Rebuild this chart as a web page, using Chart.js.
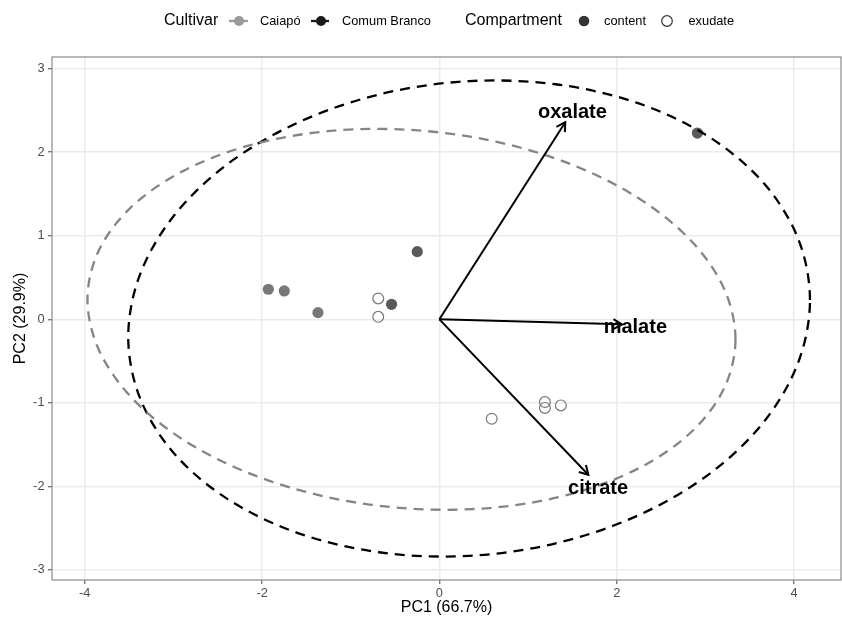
<!DOCTYPE html>
<html><head><meta charset="utf-8">
<script src="https://cdn.jsdelivr.net/npm/chart.js@4"></script>
<style>html,body{margin:0;padding:0;background:#fff}#wrap{width:842px;height:618px;position:relative}</style>
</head><body><div id="wrap"><canvas id="c" width="842" height="618"></canvas></div>
<script>
const FONT = '"Liberation Sans", Arial, Helvetica, sans-serif';

// ---- data ----
const xTicks = [-4, -2, 0, 2, 4];
const yTicks = [-3, -2, -1, 0, 1, 2, 3];
const xRange = [-4.37, 4.53];
const yRange = [-3.12, 3.14];

const contentPC1 = [-1.93, -1.75, -1.37, -0.54, -0.25, 2.91];
const contentPC2 = [0.36, 0.34, 0.08, 0.18, 0.81, 2.23];
const contentCultivar = ['Caiapó', 'Caiapó', 'Caiapó', 'Comum Branco', 'Comum Branco', 'Comum Branco'];

const exudatePC1 = [-0.69, -0.69, 0.59, 1.19, 1.19, 1.37];
const exudatePC2 = [0.25, 0.03, -1.19, -0.99, -1.06, -1.03];

const variables = ['oxalate', 'malate', 'citrate'];
const arrowPC1 = [1.42, 2.06, 1.68];
const arrowPC2 = [2.36, -0.06, -1.86];
const labelPC1 = [1.50, 2.21, 1.79];
const labelPC2 = [2.49, -0.08, -2.01];

// ellipse outlines (first and last entries overlap the loop so it closes smoothly)
const caiapoEllX = [3.215, 3.340, 3.215, 2.850, 2.269, 1.513, 0.631, -0.315, -1.261, -2.143, -2.899, -3.480, -3.845, -3.970, -3.845, -3.480, -2.899, -2.143, -1.261, -0.315, 0.631, 1.513, 2.269, 2.850, 3.215, 3.340, 3.215];
const caiapoEllY = [-0.817, -0.238, 0.357, 0.928, 1.435, 1.844, 2.128, 2.267, 2.252, 2.082, 1.771, 1.340, 0.817, 0.238, -0.357, -0.928, -1.435, -1.844, -2.128, -2.267, -2.252, -2.082, -1.771, -1.340, -0.817, -0.238, 0.357];
const comumEllX = [4.049, 4.180, 4.049, 3.665, 3.054, 2.258, 1.330, 0.335, -0.660, -1.588, -2.384, -2.995, -3.379, -3.510, -3.379, -2.995, -2.384, -1.588, -0.660, 0.335, 1.330, 2.258, 3.054, 3.665, 4.049, 4.180, 4.049];
const comumEllY = [-0.512, 0.231, 0.958, 1.622, 2.175, 2.581, 2.811, 2.851, 2.697, 2.359, 1.863, 1.240, 0.532, -0.211, -0.938, -1.602, -2.155, -2.561, -2.791, -2.831, -2.677, -2.339, -1.843, -1.220, -0.512, 0.231, 0.958];

const cultivarColor = { 'Caiapó': '#787878', 'Comum Branco': '#5a5a5a' };

// ---- build ----
const zip = (xs, ys) => xs.map((x, i) => ({ x: x, y: ys[i] }));

const datasets = [];
variables.forEach((v, i) => {
  datasets.push({
    label: v, data: [{ x: 0, y: 0 }, { x: arrowPC1[i], y: arrowPC2[i] }],
    showLine: true, pointRadius: 0, borderColor: '#000', borderWidth: 2, order: 0
  });
});
const ellipseSet = (label, xs, ys, col) => ({
  label: label, data: zip(xs, ys), showLine: true, pointRadius: 0,
  borderColor: col, borderWidth: 2.3, borderDash: [10, 7], tension: 0.33, order: 1,
  segment: {
    borderColor: c => (c.p0DataIndex === 0 || c.p1DataIndex === xs.length - 1) ? 'rgba(0,0,0,0)' : col
  }
});
datasets.push(ellipseSet('Caiapó ellipse', caiapoEllX, caiapoEllY, '#858585'));
datasets.push(ellipseSet('Comum Branco ellipse', comumEllX, comumEllY, '#000'));
datasets.push({
  label: 'content', data: zip(contentPC1, contentPC2), showLine: false, pointRadius: 5.6,
  pointStyle: 'circle', backgroundColor: contentCultivar.map(c => cultivarColor[c]),
  borderWidth: 0, order: 2
});
datasets.push({
  label: 'exudate', data: zip(exudatePC1, exudatePC2), showLine: false, pointRadius: 5.4,
  pointStyle: 'circle', backgroundColor: 'rgba(255,255,255,0)', borderColor: '#777',
  borderWidth: 1.2, order: 2
});

const bgPlugin = {
  id: 'bg',
  beforeDraw(chart) {
    const ctx = chart.ctx;
    ctx.save(); ctx.fillStyle = '#fff'; ctx.fillRect(0, 0, chart.width, chart.height); ctx.restore();
  }
};

const overlayPlugin = {
  id: 'overlay',
  afterDatasetsDraw(chart) {
    const ctx = chart.ctx, xs = chart.scales.x, ys = chart.scales.y;
    const a = chart.chartArea;
    // arrow heads
    ctx.save();
    ctx.strokeStyle = '#000'; ctx.lineWidth = 2; ctx.lineCap = 'butt'; ctx.lineJoin = 'miter';
    variables.forEach((v, i) => {
      const x0 = xs.getPixelForValue(0), y0 = ys.getPixelForValue(0);
      const x1 = xs.getPixelForValue(arrowPC1[i]), y1 = ys.getPixelForValue(arrowPC2[i]);
      const ang = Math.atan2(y1 - y0, x1 - x0);
      const L = 10, h = Math.PI / 6;
      ctx.beginPath();
      ctx.moveTo(x1 - L * Math.cos(ang - h), y1 - L * Math.sin(ang - h));
      ctx.lineTo(x1, y1);
      ctx.lineTo(x1 - L * Math.cos(ang + h), y1 - L * Math.sin(ang + h));
      ctx.stroke();
    });
    // labels
    ctx.fillStyle = '#000'; ctx.font = 'bold 20px ' + FONT;
    ctx.textAlign = 'center'; ctx.textBaseline = 'middle';
    variables.forEach((v, i) => {
      ctx.fillText(v, xs.getPixelForValue(labelPC1[i]), ys.getPixelForValue(labelPC2[i]) + 1);
    });
    // panel border
    ctx.strokeStyle = '#8a8a8a'; ctx.lineWidth = 1.2;
    ctx.strokeRect(a.left, a.top, a.right - a.left, a.bottom - a.top);
    ctx.restore();
  },
  afterDraw(chart) {
    const ctx = chart.ctx;
    const y = 21;
    ctx.save();
    ctx.textAlign = 'left'; ctx.textBaseline = 'middle'; ctx.fillStyle = '#000';
    ctx.font = '16px ' + FONT;
    ctx.fillText('Cultivar', 164, y);
    ctx.fillText('Compartment', 465, y);
    ctx.font = '12.8px ' + FONT;
    ctx.fillText('Caiapó', 260, y);
    ctx.fillText('Comum Branco', 342, y);
    ctx.fillText('content', 604, y);
    ctx.fillText('exudate', 688.5, y);
    // cultivar keys
    const key = (x0, x1, cx, col) => {
      ctx.strokeStyle = col; ctx.lineWidth = 2.3;
      ctx.beginPath(); ctx.moveTo(x0, y); ctx.lineTo(x1, y); ctx.stroke();
      ctx.fillStyle = col; ctx.beginPath(); ctx.arc(cx, y, 5, 0, Math.PI * 2); ctx.fill();
    };
    key(229, 248, 239, '#9a9a9a');
    key(311, 329, 321, '#1a1a1a');
    // compartment keys
    ctx.fillStyle = '#333'; ctx.beginPath(); ctx.arc(584, y, 5.3, 0, Math.PI * 2); ctx.fill();
    ctx.strokeStyle = '#333'; ctx.lineWidth = 1.2;
    ctx.beginPath(); ctx.arc(667, y, 5.3, 0, Math.PI * 2); ctx.stroke();
    ctx.restore();
  }
};

const tickFont = { family: FONT, size: 12.8 };
const titleFont = { family: FONT, size: 16 };

new Chart(document.getElementById('c'), {
  type: 'scatter',
  data: { datasets: datasets },
  options: {
    responsive: false, animation: false, devicePixelRatio: 1,
    layout: { autoPadding: false, padding: { top: 57, right: 1, left: 0, bottom: 0 } },
    plugins: { legend: { display: false }, tooltip: { enabled: false } },
    scales: {
      x: {
        type: 'linear', min: xRange[0], max: xRange[1],
        afterBuildTicks: s => { s.ticks = xTicks.map(v => ({ value: v })); },
        afterFit: s => { s.height = 38; },
        grid: { color: '#ebebeb', lineWidth: 1.5, tickColor: '#555', tickLength: 4, tickWidth: 1.1 },
        border: { display: false },
        ticks: { font: tickFont, color: '#4d4d4d', padding: 2, maxRotation: 0, callback: v => String(v) },
        title: { display: true, text: 'PC1 (66.7%)', font: titleFont, color: '#000', padding: { top: 0, bottom: 1 } }
      },
      y: {
        type: 'linear', min: yRange[0], max: yRange[1],
        afterBuildTicks: s => { s.ticks = yTicks.map(v => ({ value: v })); },
        afterFit: s => { s.width = 52; },
        grid: { color: '#ebebeb', lineWidth: 1.5, tickColor: '#555', tickLength: 4, tickWidth: 1.1 },
        border: { display: false },
        ticks: { font: tickFont, color: '#4d4d4d', padding: 3.5, callback: v => String(v) },
        title: { display: true, text: 'PC2 (29.9%)', font: titleFont, color: '#000', padding: { top: 11, bottom: 0 } }
      }
    }
  },
  plugins: [bgPlugin, overlayPlugin]
});
</script></body></html>
